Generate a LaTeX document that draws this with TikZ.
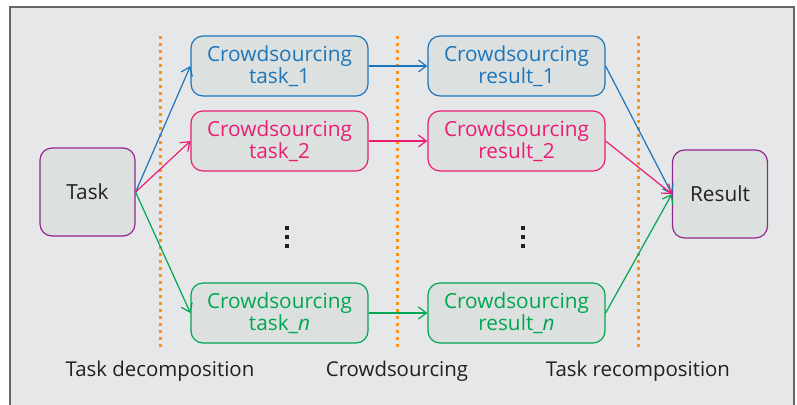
\documentclass[tikz,border=0pt]{standalone}
\usepackage{fontspec}
\setmainfont{Open Sans}
\usepackage{tikz}
\usetikzlibrary{arrows.meta, positioning}
\definecolor{CS_Blue}{HTML}{1B75BB}
\definecolor{CS_Pink}{HTML}{EC1C74}
\definecolor{CS_Green}{HTML}{00A651}
\definecolor{CS_Purple}{HTML}{92278F}
\definecolor{CS_Orange}{HTML}{F7941D}
\definecolor{CS_Back}{HTML}{E6E7E8}
\definecolor{CS_Fill}{HTML}{DCE1E0}
\definecolor{CS_Text}{HTML}{231F20}

\begin{document}
\begin{tikzpicture}[x=0.5pt, y=0.5pt,
    box/.style={draw, rounded corners=6pt, fill=CS_Fill, line width=0.6pt,
        minimum width=88.5pt, minimum height=30pt, align=center,
        font=\fontsize{10.4}{11}\selectfont, inner sep=1pt},
    endbox/.style={draw=CS_Purple, rounded corners=6pt, fill=CS_Fill, line width=0.6pt,
        minimum width=47.5pt, minimum height=44pt, text=CS_Text,
        font=\fontsize{10.4}{11}\selectfont},
    link/.style={-{Straight Barb[length=4pt, width=6pt]}, line width=0.6pt},
    stage/.style={CS_Orange, line width=1.5pt, dash pattern=on 1.5pt off 2pt},
    phase/.style={text=CS_Text, font=\fontsize{10.2}{11}\selectfont}]
    \useasboundingbox (0,0) rectangle (797,404);

    % Background panel
    \fill[white] (0,0) rectangle (797,404);
    \draw[fill=CS_Back, draw=gray!80!black, line width=0.8pt] (10,-10) rectangle (794,397);

    % Stage separators
    \draw[stage] (160,368) -- (160,54);
    \draw[stage] (397,368) -- (397,54);
    \draw[stage] (638,368) -- (638,54);

    % Input and output
    \node[endbox] (task) at (87.5,212) {Task};
    \node[endbox] (result) at (720,210) {Result};

    % Subtasks
    \node[box, draw=CS_Blue, text=CS_Blue] (task1) at (279.5,338) {Crowdsourcing\\task\_1};
    \node[box, draw=CS_Pink, text=CS_Pink] (task2) at (279.5,263) {Crowdsourcing\\task\_2};
    \node[box, draw=CS_Green, text=CS_Green] (taskn) at (279.5,91) {Crowdsourcing\\task\_\textit{n}};

    % Partial results
    \node[box, draw=CS_Blue, text=CS_Blue] (res1) at (516.5,338) {Crowdsourcing\\result\_1};
    \node[box, draw=CS_Pink, text=CS_Pink] (res2) at (516.5,263) {Crowdsourcing\\result\_2};
    \node[box, draw=CS_Green, text=CS_Green] (resn) at (516.5,91) {Crowdsourcing\\result\_\textit{n}};

    % Vertical dots
    \foreach \x in {287,523}
        \foreach \y in {176,167,158}
            \fill[CS_Text] (\x-2.2,\y-2.2) rectangle (\x+2.2,\y+2.2);

    % Decomposition
    \draw[link, CS_Blue] (task.east) -- (task1.west);
    \draw[link, CS_Pink] (task.east) -- (task2.west);
    \draw[link, CS_Green] (task.east) -- (taskn.west);

    % Crowdsourcing
    \draw[link, CS_Blue] (task1) -- (res1);
    \draw[link, CS_Pink] (task2) -- (res2);
    \draw[link, CS_Green] (taskn) -- (resn);

    % Recomposition
    \draw[link, CS_Blue] (res1.east) -- (result.west);
    \draw[link, CS_Pink] (res2.east) -- (result.west);
    \draw[link, CS_Green] (resn.east) -- (result.west);

    % Stage names
    \node[phase] (lbl1) at (160,33) {Task decomposition};
    \node[phase] (lbl2) at (397,33) {Crowdsourcing};
    \node[phase] (lbl3) at (638,33) {Task recomposition};
\end{tikzpicture}
\end{document}
